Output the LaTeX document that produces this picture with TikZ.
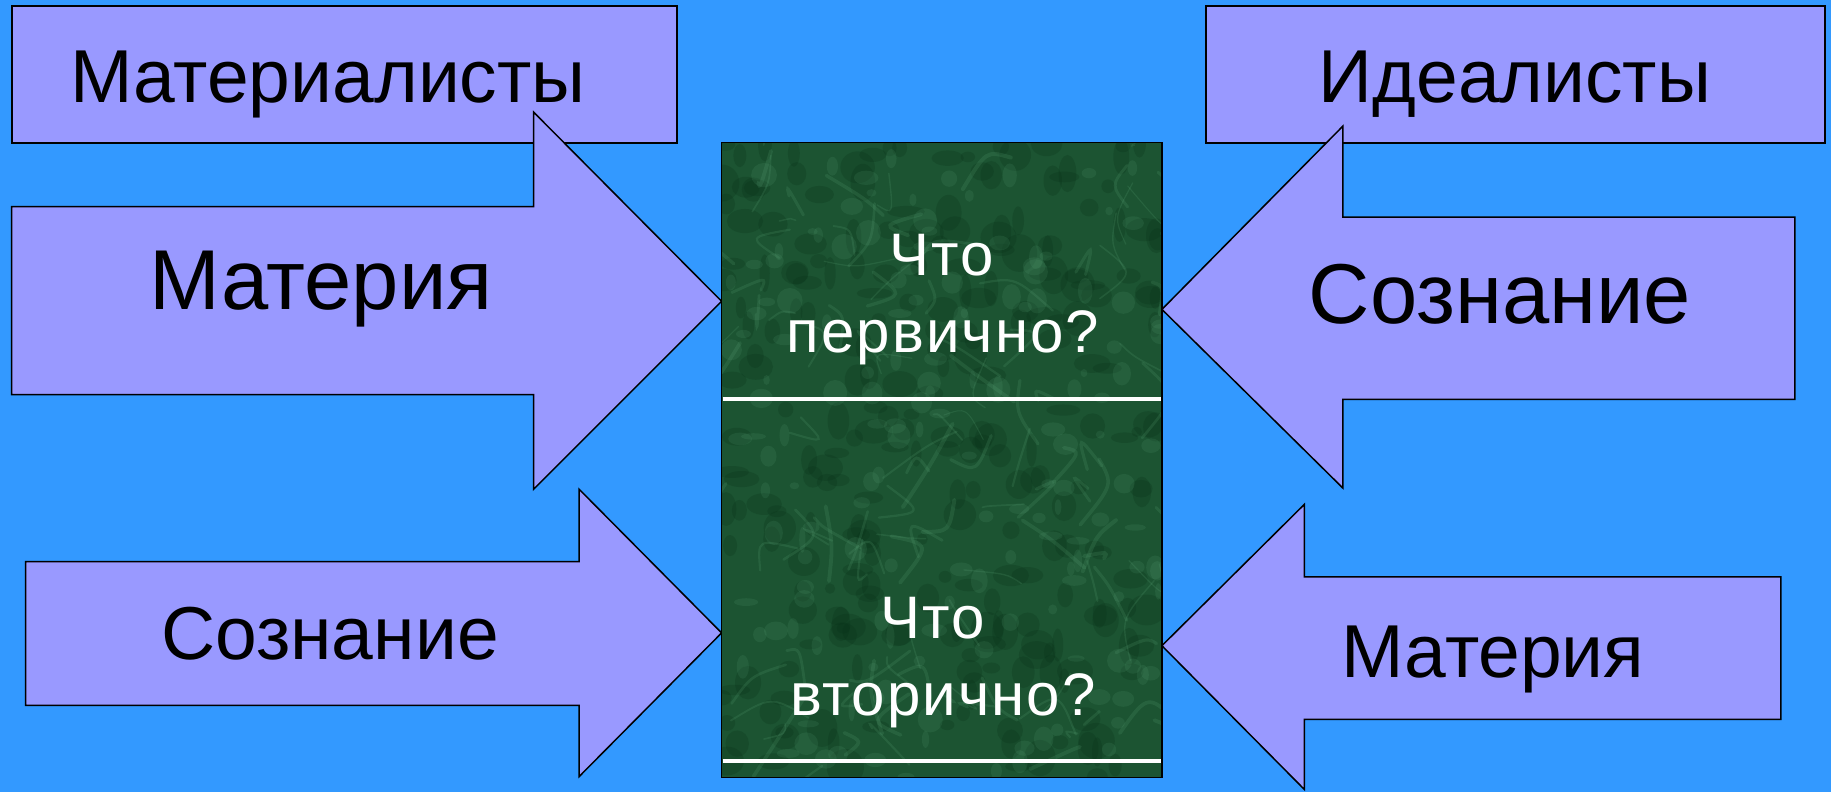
\documentclass[tikz,border=0pt]{standalone}
\usepackage{fontspec}
\setmainfont{Liberation Sans}
\newfontfamily\qfont[LetterSpace=3.5]{Liberation Sans}
\definecolor{bg}{RGB}{51,153,255}
\definecolor{arr}{RGB}{153,153,255}
\definecolor{marble}{RGB}{28,84,50}
\definecolor{darkspot}{RGB}{6,46,22}
\definecolor{vein}{RGB}{100,175,130}
\begin{document}
\begin{tikzpicture}[x=1pt,y=-1pt,
  boxshape/.style={fill=arr,draw=black,line width=2pt,line join=miter},
  arrshape/.style={fill=arr,draw=black,line width=1.5pt,line join=miter},
  bigtxt/.style={anchor=base,font=\fontsize{85}{96}\selectfont,inner sep=0pt},
  midtxt/.style={anchor=base,font=\fontsize{75}{84}\selectfont,inner sep=0pt},
  qtxt/.style={anchor=base,font=\qfont\fontsize{60}{68}\selectfont,text=white,inner sep=0pt},
  sepline/.style={white,line width=4pt}]
\fill[bg] (0,0) rectangle (1831,792);
\useasboundingbox (0,0) rectangle (1831,792);
% top boxes
\draw[boxshape] (11.7,5.8) rectangle (677.3,142.5);
\draw[boxshape] (1206.2,5.8) rectangle (1825.1,142.5);
% arrows
\draw[arrshape] (11.7,206.7) -- (533.6,206.7) -- (533.6,112.1) -- (721.6,301.3) -- (533.6,489.3) -- (533.6,394.7) -- (11.7,394.7) -- cycle;
\draw[arrshape] (1794.8,217.2) -- (1342.9,217.2) -- (1342.9,126.1) -- (1161.9,309.4) -- (1342.9,488.1) -- (1342.9,399.4) -- (1794.8,399.4) -- cycle;
\draw[arrshape] (25.7,561.7) -- (579.2,561.7) -- (579.2,489.3) -- (721.6,632.9) -- (579.2,776.5) -- (579.2,705.3) -- (25.7,705.3) -- cycle;
\draw[arrshape] (1780.8,576.8) -- (1304.3,576.8) -- (1304.3,504.4) -- (1161.9,645.7) -- (1304.3,789.4) -- (1304.3,719.3) -- (1780.8,719.3) -- cycle;
% centre marble panel
\fill[marble] (721.6,142.5) rectangle (1161.9,777.7);
\begin{scope}
\clip (721.6,142.5) rectangle (1161.9,777.7);
\pgfmathsetseed{11}
\foreach \i in {1,...,260}{
  \pgfmathsetmacro\cxa{721.6+440*rnd}
  \pgfmathsetmacro\cya{142.5+635*rnd}
  \pgfmathsetmacro\rxa{5+14*rnd}
  \pgfmathsetmacro\rya{5+14*rnd}
  \fill[darkspot,opacity=0.22] (\cxa,\cya) ellipse [x radius=\rxa pt,y radius=\rya pt];
}
\foreach \i in {1,...,160}{
  \pgfmathsetmacro\cxa{721.6+440*rnd}
  \pgfmathsetmacro\cya{142.5+635*rnd}
  \pgfmathsetmacro\rxa{3+10*rnd}
  \pgfmathsetmacro\rya{3+10*rnd}
  \fill[vein,opacity=0.13] (\cxa,\cya) ellipse [x radius=\rxa pt,y radius=\rya pt];
}
\foreach \i in {1,...,110}{
  \pgfmathsetmacro\ax{721.6+440*rnd}
  \pgfmathsetmacro\ay{142.5+635*rnd}
  \pgfmathsetmacro\bx{\ax+45*rand}
  \pgfmathsetmacro\by{\ay+45*rand}
  \pgfmathsetmacro\ex{\bx+40*rand}
  \pgfmathsetmacro\ey{\by+40*rand}
  \pgfmathsetmacro\lw{1+3*rnd}
  \draw[vein,opacity=0.16,line width=\lw pt,line cap=round] (\ax,\ay) .. controls (\bx,\by) .. (\ex,\ey);
}
\end{scope}
\draw[black,line width=1.5pt] (721.6,142.5) rectangle (1161.9,777.7);
\draw[sepline] (722.5,399.4) -- (1161,399.4);
\draw[sepline] (722.5,761.3) -- (1161,761.3);
% texts
\node[midtxt] (tmat) at (328,102.8) {Материалисты};
\node[midtxt] (tid) at (1515,102.8) {Идеалисты};
\node[bigtxt] (tmat1) at (321,309.4) {Материя};
\node[bigtxt] (tsoz1) at (1500,323.5) {Сознание};
\node[midtxt] (tsoz2) at (330,659.7) {Сознание};
\node[midtxt] (tmat2) at (1493,677.3) {Материя};
\node[qtxt] (q1a) at (942,275.6) {Что};
\node[qtxt] (q1b) at (943,352.6) {первично?};
\node[qtxt] (q2a) at (933,638.7) {Что};
\node[qtxt] (q2b) at (943,715.8) {вторично?};
\end{tikzpicture}
\end{document}
